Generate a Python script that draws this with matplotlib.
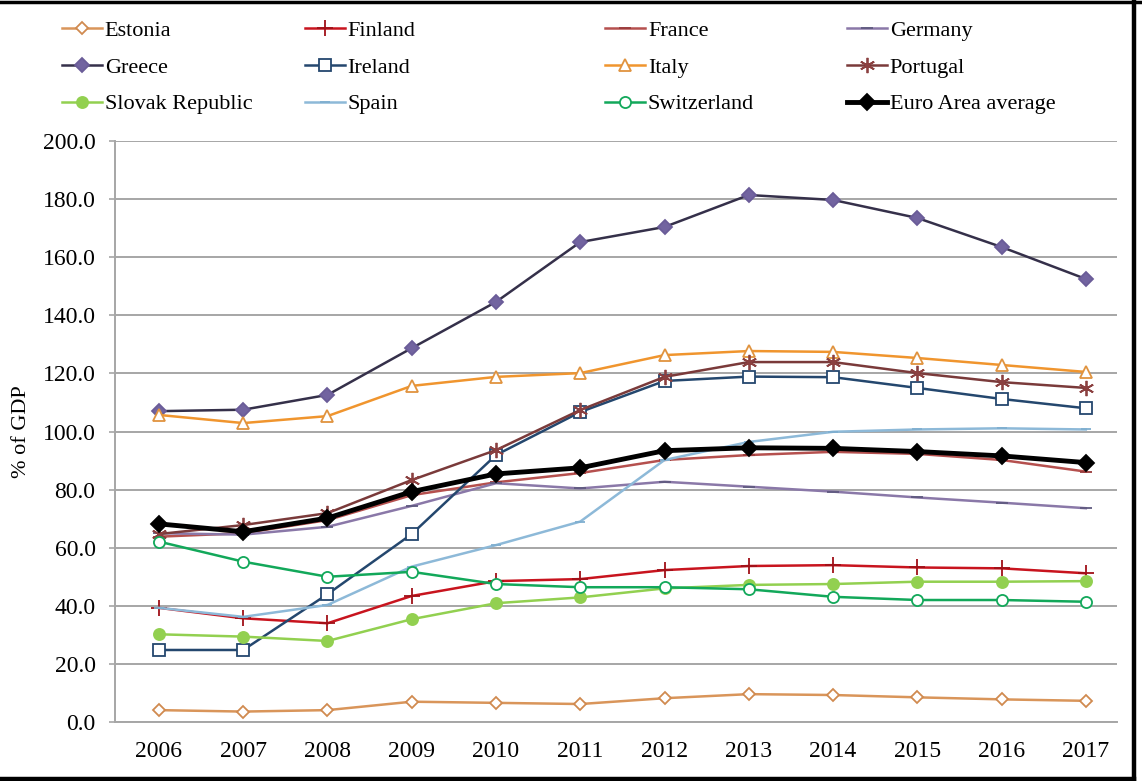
import matplotlib
matplotlib.use("Agg")
import matplotlib.pyplot as plt
from matplotlib.lines import Line2D

plt.rcParams['font.family'] = ['Liberation Serif', 'DejaVu Serif']

years = list(range(2006, 2018))

estonia = [4.1, 3.6, 4.1, 7.0, 6.6, 6.2, 8.2, 9.6, 9.3, 8.5, 7.8, 7.3]
finland = [39.3, 35.7, 34.0, 43.4, 48.5, 49.2, 52.3, 53.7, 54.0, 53.2, 52.9, 51.2]
france = [63.8, 65.0, 69.5, 78.1, 82.5, 85.7, 90.2, 91.9, 93.0, 92.3, 90.2, 86.2]
germany = [65.0, 64.5, 67.2, 74.4, 82.2, 80.4, 82.7, 81.0, 79.3, 77.3, 75.5, 73.6]
greece = [107.0, 107.5, 112.6, 128.7, 144.6, 165.2, 170.4, 181.4, 179.7, 173.5, 163.5, 152.5]
ireland = [24.8, 24.8, 44.0, 64.7, 91.9, 106.7, 117.4, 118.9, 118.7, 115.0, 111.2, 108.0]
italy = [105.7, 102.9, 105.3, 115.7, 118.8, 120.1, 126.3, 127.7, 127.4, 125.3, 122.9, 120.5]
portugal = [64.7, 67.8, 71.9, 83.3, 93.6, 107.4, 118.8, 123.9, 123.9, 120.1, 117.0, 115.0]
slovakia = [30.2, 29.4, 27.9, 35.4, 40.9, 42.9, 46.0, 47.2, 47.5, 48.3, 48.3, 48.5]
spain = [39.3, 36.2, 40.3, 53.5, 60.9, 69.0, 90.2, 96.4, 99.9, 100.7, 101.1, 100.7]
switzerland = [62.1, 55.2, 50.0, 51.7, 47.5, 46.4, 46.4, 45.7, 43.1, 42.0, 42.0, 41.4]
euro_area = [68.2, 65.5, 70.2, 79.3, 85.4, 87.5, 93.4, 94.4, 94.2, 93.1, 91.6, 89.3]

# (name, values, line colour, marker, marker face, marker edge, marker size, line width)
series = [
    ("Estonia", estonia, "#D9955A", "D", "white", "#D08A50", 6, 1.8),
    ("Finland", finland, "#C8141E", "+", "#C8141E", "#A01018", 11, 1.8),
    ("France", france, "#B5504E", "_", "#B5504E", "#9A3C3C", 8, 1.8),
    ("Germany", germany, "#8A78A8", "_", "#5F5A80", "#5F5A80", 8, 1.8),
    ("Greece", greece, "#35304A", "D", "#7264A0", "#6A5C98", 7, 1.8),
    ("Ireland", ireland, "#24476E", "s", "white", "#24476E", 8, 1.8),
    ("Italy", italy, "#F0952E", "^", "white", "#E0933F", 9, 1.8),
    ("Portugal", portugal, "#7A3A3A", (6, 2, 0), "#8B4040", "#8B4040", 11, 1.8),
    ("Slovak Republic", slovakia, "#92D050", "o", "#92D050", "#92D050", 8, 1.8),
    ("Spain", spain, "#8DB9D8", "_", "#8DB9D8", "#7FAFD0", 7, 1.8),
    ("Switzerland", switzerland, "#12A85A", "o", "white", "#12A85A", 8, 1.8),
    ("Euro Area average", euro_area, "black", "D", "black", "black", 8, 3.5),
]

fig = plt.figure(figsize=(11.42, 7.81), dpi=100)
ax = fig.add_axes([0.1007, 0.0755, 0.8774, 0.744])

handles = {}
for name, vals, col, mk, mfc, mec, ms, lw in series:
    ln, = ax.plot(years, vals, color=col, lw=lw, marker=mk, markersize=ms,
                  markerfacecolor=mfc, markeredgecolor=mec, markeredgewidth=1.3,
                  label=name)
    handles[name] = ln

ax.set_xlim(2005.478, 2017.37)
ax.set_ylim(0, 200)
ax.set_yticks(range(0, 201, 20))
ax.set_yticklabels([f"{v:.1f}" for v in range(0, 201, 20)])
ax.set_xticks(years)
ax.set_xticklabels([str(y) for y in years])
ax.grid(axis='y', color='#A6A6A6', lw=1.4)
ax.set_axisbelow(True)
for side in ('top', 'right'):
    ax.spines[side].set_visible(False)
for side in ('left', 'bottom'):
    ax.spines[side].set_color('#A6A6A6')
    ax.spines[side].set_linewidth(1.4)
ax.tick_params(axis='y', length=4, color='#A6A6A6', width=1.2, pad=10, labelsize=17)
ax.tick_params(axis='x', length=0, pad=14, labelsize=17)
ax.set_ylabel("% of GDP", fontsize=16, labelpad=8)

# legend laid out in four columns, filled row by row
columns = [
    (["Estonia", "Greece", "Slovak Republic"], 0.0543),
    (["Finland", "Ireland", "Spain"], 0.267),
    (["France", "Italy", "Switzerland"], 0.530),
    (["Germany", "Portugal", "Euro Area average"], 0.7417),
]
for names, x0 in columns:
    fig.legend([handles[n] for n in names], names, loc='upper left',
               bbox_to_anchor=(x0, 0.974), frameon=False, fontsize=16,
               borderpad=0, borderaxespad=0, handlelength=1.8,
               handletextpad=0.12, labelspacing=0.73, numpoints=1)

# black frame around the picture
for xs, ys, w in [((0, 1), (0.998, 0.998), 2.5),
                  ((0.9934, 0.9934), (0, 1), 3.2),
                  ((0, 0.9934), (0.0026, 0.0026), 3.2)]:
    fig.add_artist(Line2D(xs, ys, color='black', lw=w, transform=fig.transFigure))

fig.savefig("out.png", dpi=100, facecolor='white')
